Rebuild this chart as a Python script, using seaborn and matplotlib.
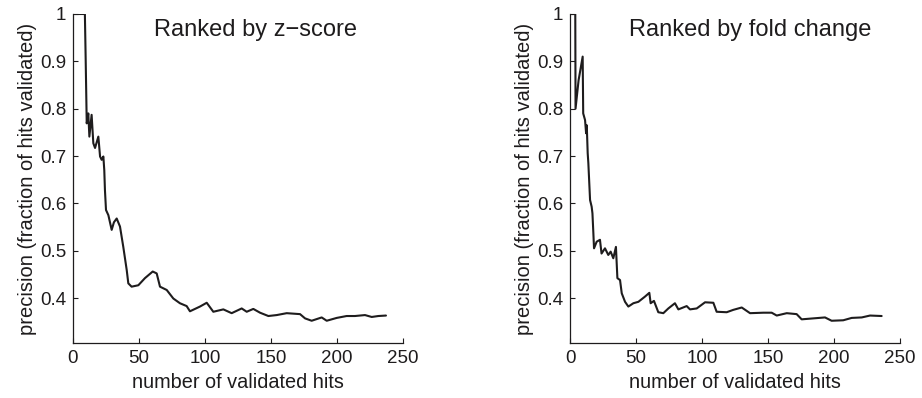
import numpy as np
import pandas as pd
import matplotlib
matplotlib.use("Agg")
import matplotlib.pyplot as plt
import seaborn as sns

# ---- data ----
z_hits = [1, 9, 9.6, 10.4, 11.6, 12.4, 14.1, 15.4, 16.7, 19.2, 20.5, 21.7, 23.0, 23.7,
          24.2, 25.0, 26.8, 29.3, 31.0, 33.1, 35.6, 38.1, 40.7, 41.9, 44.4, 49.5, 54.5,
          60.4, 63.4, 65.9, 71.0, 76.0, 81.0, 86.1, 88.6, 96.2, 101.3, 106.3, 113.9,
          120.2, 127.8, 131.6, 136.6, 141.7, 148.0, 154.3, 161.9, 172.0, 175.8, 180.8,
          188.4, 192.2, 199.8, 207.3, 213.6, 221.2, 226.3, 231.3, 237.1]
z_prec = [1.0, 1.0, 0.905, 0.769, 0.790, 0.741, 0.787, 0.727, 0.717, 0.741, 0.699, 0.692,
          0.699, 0.670, 0.628, 0.586, 0.575, 0.544, 0.560, 0.568, 0.551, 0.508, 0.459,
          0.431, 0.424, 0.427, 0.442, 0.456, 0.452, 0.424, 0.417, 0.399, 0.389, 0.383,
          0.372, 0.382, 0.390, 0.371, 0.376, 0.368, 0.378, 0.371, 0.377, 0.369, 0.362,
          0.364, 0.368, 0.366, 0.357, 0.352, 0.359, 0.352, 0.358, 0.362, 0.362, 0.364,
          0.360, 0.362, 0.363]

fc_hits = [1, 4, 4.2, 6.5, 9.6, 10.0, 11.4, 12.2, 12.7, 13.4, 13.9, 15.2, 16.4, 17.0,
           17.7, 18.2, 20.2, 22.7, 23.9, 26.5, 29.0, 30.8, 32.8, 34.8, 35.9, 37.9, 39.2,
           41.7, 44.2, 48.0, 51.8, 56.8, 60.1, 61.1, 63.6, 66.9, 70.7, 74.5, 79.5, 82.1,
           88.4, 90.9, 96.0, 102.3, 108.6, 111.1, 118.7, 123.7, 130.1, 136.4, 146.5,
           152.8, 156.6, 164.2, 171.7, 175.5, 184.3, 193.2, 198.2, 207.0, 213.4, 221.0,
           227.3, 236.1]
fc_prec = [1.0, 1.0, 0.80, 0.86, 0.91, 0.79, 0.776, 0.748, 0.765, 0.706, 0.685, 0.607,
           0.593, 0.579, 0.537, 0.505, 0.519, 0.523, 0.494, 0.505, 0.491, 0.498, 0.484,
           0.508, 0.442, 0.438, 0.410, 0.392, 0.382, 0.389, 0.392, 0.403, 0.411, 0.389,
           0.394, 0.370, 0.368, 0.378, 0.389, 0.376, 0.383, 0.376, 0.378, 0.391, 0.390,
           0.371, 0.370, 0.375, 0.380, 0.368, 0.369, 0.369, 0.363, 0.368, 0.366, 0.355,
           0.357, 0.359, 0.352, 0.353, 0.358, 0.359, 0.363, 0.362]

titles = ["Ranked by z\u2212score", "Ranked by fold change"]
x_ticks = [0, 50, 100, 150, 200, 250]
y_ticks = [0.4, 0.5, 0.6, 0.7, 0.8, 0.9, 1.0]
y_tick_labels = ["0.4", "0.5", "0.6", "0.7", "0.8", "0.9", "1"]

sns.set_style("ticks")
plt.rcParams["font.family"] = ["Liberation Sans", "DejaVu Sans"]

W, H = 922, 398
fig = plt.figure(figsize=(W / 100, H / 100), dpi=100)

def frac_rect(x0, x1, ytop, ybot):
    return [x0 / W, (H - ybot) / H, (x1 - x0) / W, (ybot - ytop) / H]

axes = [fig.add_axes(frac_rect(73, 403, 14, 343)),
        fig.add_axes(frac_rect(570, 900, 14, 343))]

datasets = [pd.DataFrame({"hits": z_hits, "precision": z_prec}),
            pd.DataFrame({"hits": fc_hits, "precision": fc_prec})]
title_x = [0.552, 0.545]

for ax, df, title, tx in zip(axes, datasets, titles, title_x):
    sns.lineplot(data=df, x="hits", y="precision", ax=ax, sort=False,
                 estimator=None, color="#1e1c1d", linewidth=1.5)
    ax.set_xlim(0, 250)
    ax.set_ylim(0.305, 1.0)
    ax.set_xticks(x_ticks)
    ax.set_xticklabels([str(t) for t in x_ticks])
    ax.set_yticks(y_ticks)
    ax.set_yticklabels(y_tick_labels)
    ax.tick_params(direction="in", length=3.5, width=0.8, labelsize=13.5,
                   colors="#1e1c1d", pad=5)
    for s in ["top", "right"]:
        ax.spines[s].set_visible(False)
    for s in ["left", "bottom"]:
        ax.spines[s].set_linewidth(0.9)
        ax.spines[s].set_color("#1e1c1d")
    ax.set_xlabel("number of validated hits", fontsize=14.3, color="#1e1c1d", labelpad=4)
    ax.set_ylabel("precision (fraction of hits validated)", fontsize=14.5,
                  color="#1e1c1d", labelpad=2)
    ax.text(tx, 0.951, title, transform=ax.transAxes, ha="center", va="center",
            fontsize=17, color="#1e1c1d")
    ax.set_facecolor("white")

fig.patch.set_facecolor("white")
fig.savefig("out.png", dpi=100, facecolor="white")
